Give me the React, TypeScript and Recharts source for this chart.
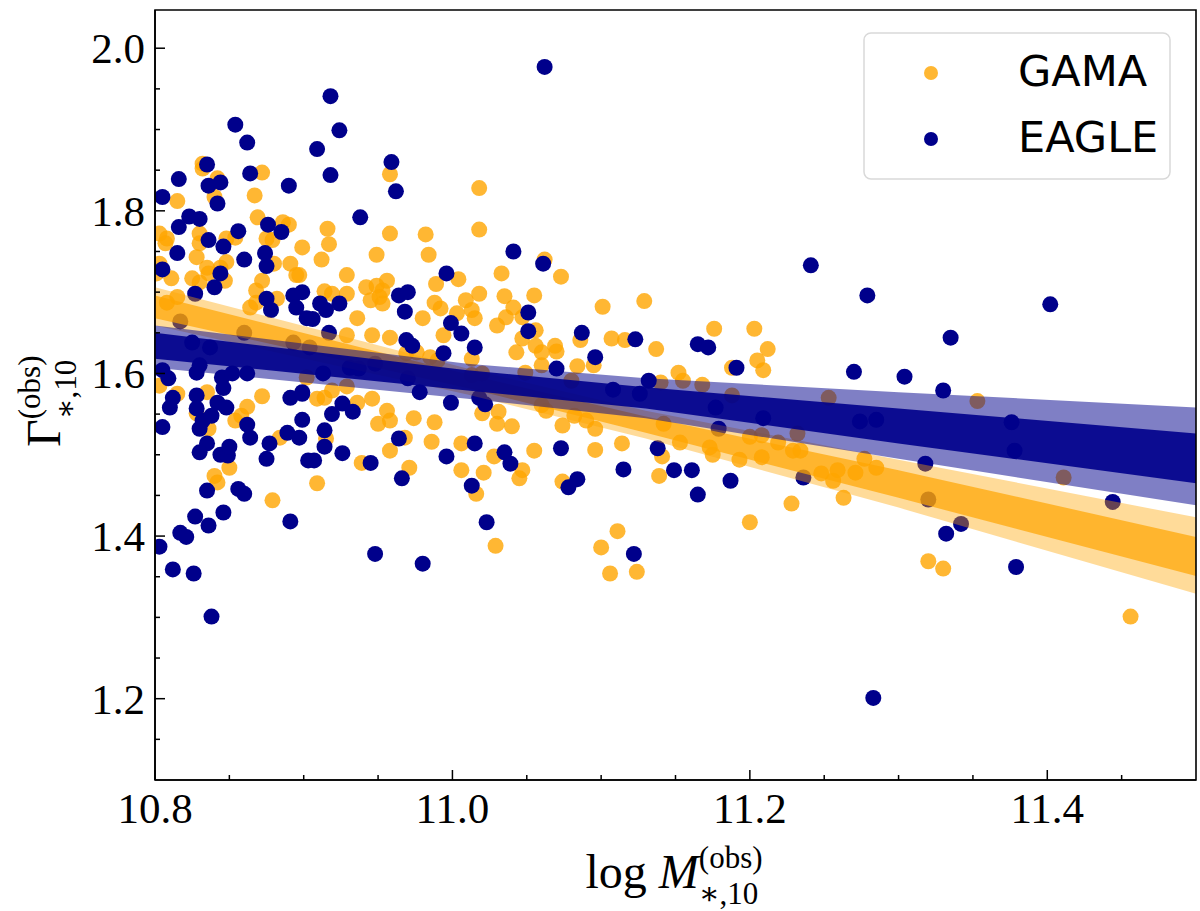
import {
  ComposedChart,
  Scatter,
  Area,
  XAxis,
  YAxis,
  ReferenceArea,
  Legend,
} from 'recharts';

// axis ticks (minor every 0.05, labels every 0.2)
const X_TICKS = [10.8, 10.85, 10.9, 10.95, 11.0, 11.05, 11.1, 11.15, 11.2, 11.25, 11.3, 11.35, 11.4, 11.45];
const X_LABELS = [10.8, 11.0, 11.2, 11.4];
const Y_TICKS = [1.15, 1.2, 1.25, 1.3, 1.35, 1.4, 1.45, 1.5, 1.55, 1.6, 1.65, 1.7, 1.75, 1.8, 1.85, 1.9, 1.95, 2.0];
const Y_LABELS = [1.2, 1.4, 1.6, 1.8, 2.0];

const SERIES_NAMES = ['GAMA', 'EAGLE'];

// GAMA galaxies: [log M*, Gamma]
const GAMA_POINTS: [number, number][] = [
  [10.832, 1.858], [10.832, 1.852], [10.872, 1.847], [10.842, 1.84], [10.815, 1.812], [10.867, 1.819],
  [10.84, 1.817], [10.869, 1.792], [10.886, 1.786], [10.89, 1.783], [10.875, 1.766], [10.879, 1.764],
  [10.899, 1.755], [10.803, 1.772], [10.808, 1.766], [10.807, 1.76], [10.83, 1.772], [10.83, 1.76],
  [10.848, 1.766], [10.854, 1.767], [10.828, 1.743], [10.848, 1.737], [10.844, 1.73], [10.835, 1.73],
  [10.836, 1.723], [10.88, 1.735], [10.891, 1.735], [10.895, 1.721], [10.825, 1.717], [10.83, 1.712],
  [10.811, 1.717], [10.847, 1.714], [10.872, 1.714], [10.868, 1.702], [10.882, 1.692], [10.803, 1.735],
  [10.801, 1.723], [10.815, 1.694], [10.808, 1.687], [10.868, 1.687], [10.864, 1.681],
  [10.803, 1.585], [10.815, 1.575], [10.835, 1.577], [10.872, 1.572], [10.862, 1.559], [10.854, 1.542],
  [10.858, 1.548], [10.828, 1.551], [10.836, 1.532], [10.884, 1.521], [10.85, 1.484], [10.84, 1.474],
  [10.842, 1.466], [10.879, 1.444],
  [10.958, 1.845], [11.018, 1.828], [10.916, 1.778], [10.958, 1.772], [10.982, 1.771], [10.917, 1.759],
  [10.912, 1.74], [10.949, 1.746], [10.984, 1.746], [10.929, 1.721], [10.897, 1.721], [11.004, 1.716],
  [10.989, 1.71], [10.942, 1.706], [10.949, 1.708], [10.953, 1.702], [10.956, 1.714], [10.945, 1.69],
  [10.953, 1.686], [10.951, 1.694], [10.929, 1.698], [10.914, 1.701], [10.919, 1.698], [10.988, 1.687],
  [10.992, 1.68], [11.009, 1.69], [11.013, 1.678], [11.003, 1.674], [10.98, 1.668], [10.936, 1.668],
  [10.929, 1.647], [10.946, 1.647], [10.958, 1.644], [10.994, 1.647], [11.018, 1.777],
  [10.976, 1.626], [10.985, 1.62], [10.99, 1.616], [11.013, 1.618], [10.902, 1.595], [10.929, 1.584],
  [10.919, 1.579], [10.909, 1.569], [10.914, 1.57], [10.936, 1.564], [10.946, 1.569], [10.956, 1.554],
  [10.958, 1.542], [10.95, 1.538], [10.974, 1.545], [10.988, 1.54], [10.986, 1.516], [11.006, 1.514],
  [10.968, 1.521], [10.958, 1.505], [10.915, 1.52], [10.939, 1.49], [10.971, 1.484], [11.006, 1.481],
  [11.016, 1.452], [10.909, 1.465], [10.969, 1.625],
  [11.062, 1.74], [11.033, 1.723], [11.073, 1.719], [11.018, 1.698], [11.035, 1.695], [11.055, 1.696],
  [11.041, 1.681], [11.015, 1.668], [11.03, 1.659], [11.036, 1.669], [11.047, 1.669], [11.056, 1.653],
  [11.101, 1.682], [11.129, 1.689],
  [11.043, 1.626], [11.047, 1.643], [11.056, 1.634], [11.06, 1.626], [11.069, 1.634], [11.07, 1.627],
  [11.086, 1.641], [11.107, 1.643], [11.116, 1.641], [11.06, 1.61], [11.084, 1.609], [11.095, 1.61],
  [11.013, 1.598], [11.02, 1.6], [11.049, 1.601], [11.08, 1.591], [11.031, 1.553], [11.02, 1.551],
  [11.03, 1.538], [11.04, 1.535], [11.06, 1.561], [11.063, 1.554], [11.074, 1.536], [11.082, 1.548],
  [11.09, 1.542], [11.096, 1.532], [11.114, 1.514], [11.055, 1.505], [11.096, 1.506], [11.028, 1.498],
  [11.021, 1.478], [11.047, 1.481], [11.045, 1.471], [11.074, 1.467], [11.029, 1.388], [11.111, 1.406],
  [11.1, 1.386], [11.106, 1.354], [11.124, 1.356],
  [11.176, 1.655], [11.203, 1.655], [11.137, 1.63], [11.212, 1.63], [11.205, 1.616], [11.209, 1.604],
  [11.188, 1.607], [11.152, 1.601], [11.155, 1.591], [11.168, 1.586], [11.14, 1.589], [11.188, 1.573],
  [11.253, 1.57], [11.142, 1.538], [11.153, 1.515], [11.173, 1.509], [11.175, 1.5], [11.193, 1.494],
  [11.208, 1.497], [11.2, 1.522], [11.208, 1.524], [11.219, 1.515], [11.232, 1.526], [11.229, 1.505],
  [11.234, 1.505], [11.141, 1.498], [11.139, 1.474], [11.248, 1.477], [11.256, 1.468], [11.259, 1.481],
  [11.271, 1.478], [11.277, 1.495], [11.285, 1.484], [11.263, 1.447], [11.228, 1.44], [11.2, 1.417],
  [11.353, 1.566], [11.411, 1.472], [11.32, 1.369], [11.33, 1.36], [11.456, 1.301],
];

// EAGLE galaxies: [log M*, Gamma]
const EAGLE_POINTS: [number, number][] = [
  [10.854, 1.906], [10.862, 1.884], [10.835, 1.857], [10.816, 1.839], [10.864, 1.846], [10.836, 1.831],
  [10.844, 1.835], [10.89, 1.831], [10.805, 1.817], [10.842, 1.809], [10.823, 1.793], [10.83, 1.79],
  [10.816, 1.78], [10.876, 1.783], [10.885, 1.774], [10.856, 1.775], [10.836, 1.764], [10.846, 1.756],
  [10.815, 1.748], [10.86, 1.74], [10.874, 1.748], [10.875, 1.732], [10.805, 1.728], [10.844, 1.723],
  [10.84, 1.706], [10.827, 1.698], [10.875, 1.692], [10.893, 1.696], [10.899, 1.7], [10.878, 1.678],
  [10.895, 1.681],
  [10.817, 1.664], [10.86, 1.65], [10.825, 1.638], [10.837, 1.632], [10.893, 1.638], [10.805, 1.604],
  [10.809, 1.594], [10.83, 1.61], [10.828, 1.601], [10.845, 1.595], [10.852, 1.6], [10.862, 1.6],
  [10.846, 1.582], [10.812, 1.57], [10.81, 1.558], [10.828, 1.573], [10.828, 1.557], [10.842, 1.564],
  [10.848, 1.558], [10.838, 1.548], [10.832, 1.542], [10.83, 1.532], [10.805, 1.534], [10.862, 1.537],
  [10.864, 1.521], [10.891, 1.57], [10.899, 1.575], [10.899, 1.543], [10.889, 1.527], [10.897, 1.521],
  [10.877, 1.514], [10.875, 1.495], [10.903, 1.493], [10.835, 1.514], [10.83, 1.503], [10.844, 1.5],
  [10.849, 1.499], [10.85, 1.51], [10.835, 1.456], [10.856, 1.458], [10.86, 1.452], [10.827, 1.424],
  [10.836, 1.413], [10.846, 1.429], [10.817, 1.404], [10.821, 1.399], [10.803, 1.387], [10.812, 1.359],
  [10.826, 1.354], [10.891, 1.418], [10.838, 1.301],
  [10.918, 1.941], [10.924, 1.899], [10.909, 1.876], [10.918, 1.844], [10.959, 1.86], [10.962, 1.824],
  [10.938, 1.792], [10.996, 1.723], [10.911, 1.686], [10.915, 1.678], [10.924, 1.686], [10.964, 1.696],
  [10.97, 1.7], [10.968, 1.676], [10.999, 1.662], [11.006, 1.649], [10.902, 1.668], [10.906, 1.667],
  [10.917, 1.65],
  [10.969, 1.641], [10.973, 1.634], [10.994, 1.625], [11.015, 1.632], [10.904, 1.632], [10.913, 1.6],
  [10.931, 1.607], [10.937, 1.606], [10.948, 1.612], [10.97, 1.594], [10.978, 1.577], [10.999, 1.564],
  [10.899, 1.577], [10.926, 1.563], [10.933, 1.553], [10.919, 1.55], [10.914, 1.53], [10.914, 1.51],
  [10.926, 1.502], [10.907, 1.493], [10.945, 1.49], [10.964, 1.52], [10.996, 1.498], [10.966, 1.471],
  [11.015, 1.514], [10.948, 1.378], [10.98, 1.366],
  [11.062, 1.977], [11.041, 1.75], [11.061, 1.735], [11.051, 1.675], [11.051, 1.652], [11.087, 1.65],
  [11.123, 1.642],
  [11.096, 1.62], [11.07, 1.606], [11.108, 1.58], [11.126, 1.575], [11.132, 1.591], [11.018, 1.57],
  [11.022, 1.562], [11.035, 1.503], [11.039, 1.489], [11.073, 1.508], [11.115, 1.482], [11.084, 1.47],
  [11.078, 1.46], [11.013, 1.462], [11.023, 1.417], [11.122, 1.378],
  [11.241, 1.733], [11.279, 1.696], [11.165, 1.636], [11.172, 1.632], [11.191, 1.607], [11.27, 1.602],
  [11.304, 1.596], [11.177, 1.558], [11.209, 1.545], [11.274, 1.541], [11.285, 1.543], [11.179, 1.532],
  [11.138, 1.508], [11.149, 1.481], [11.161, 1.481], [11.187, 1.468], [11.236, 1.472], [11.165, 1.451],
  [11.402, 1.685], [11.335, 1.644], [11.33, 1.579], [11.376, 1.54], [11.378, 1.505], [11.318, 1.489],
  [11.444, 1.442], [11.332, 1.403], [11.379, 1.362], [11.32, 1.445], [11.342, 1.415], [11.283, 1.201],
];

// fit confidence bands, read at these masses
const FIT_X = [10.8, 11.01, 11.13, 11.3, 11.5];
const GAMA_OUTER_LO = [1.659, 1.574, 1.52, 1.435, 1.329];
const GAMA_OUTER_HI = [1.706, 1.606, 1.554, 1.494, 1.423];
const GAMA_INNER_LO = [1.668, 1.582, 1.527, 1.447, 1.351];
const GAMA_INNER_HI = [1.696, 1.599, 1.547, 1.481, 1.399];
const EAGLE_OUTER_LO = [1.607, 1.569, 1.545, 1.495, 1.438];
const EAGLE_OUTER_HI = [1.659, 1.612, 1.594, 1.577, 1.558];
const EAGLE_INNER_LO = [1.618, 1.579, 1.557, 1.514, 1.465];
const EAGLE_INNER_HI = [1.65, 1.604, 1.583, 1.557, 1.526];

const GAMA_COLOR = '#ffa500';
const EAGLE_COLOR = '#00008b';
const SERIF = '"Liberation Serif", "DejaVu Serif", serif';

const toPoints = (pts: [number, number][]) => pts.map(([x, y]) => ({ x, y }));
const toBand = (lo: number[], hi: number[]) => FIT_X.map((x, i) => ({ x, band: [lo[i], hi[i]] }));
const inList = (v: number, list: number[]) => list.some((t) => Math.abs(t - v) < 1e-6);

function XTick({ x, y, payload }: any) {
  const major = inList(payload.value, X_LABELS);
  return (
    <g>
      <line x1={x} x2={x} y1={y} y2={y - (major ? 10 : 5)} stroke="#000" strokeWidth={1.5} />
      {major && (
        <text x={x} y={y + 43} textAnchor="middle" fontFamily={SERIF} fontSize={43} fill="#000">
          {payload.value.toFixed(1)}
        </text>
      )}
    </g>
  );
}

function YTick({ x, y, payload }: any) {
  const major = inList(payload.value, Y_LABELS);
  return (
    <g>
      <line x1={x} x2={x + (major ? 10 : 5)} y1={y} y2={y} stroke="#000" strokeWidth={1.5} />
      {major && (
        <text x={x - 10} y={y + 15} textAnchor="end" fontFamily={SERIF} fontSize={43} fill="#000">
          {payload.value.toFixed(1)}
        </text>
      )}
    </g>
  );
}

function XTitle({ viewBox }: any) {
  const cx = viewBox ? viewBox.x + viewBox.width / 2 : 675;
  return (
    <text x={cx - 90} y={888} fontFamily={SERIF} fontSize={48} fill="#000">
      log
      <tspan dx={12} fontStyle="italic">M</tspan>
      <tspan fontSize={31} dy={-20}>(obs)</tspan>
      <tspan fontSize={31} dx={-64} dy={36}>∗,10</tspan>
    </text>
  );
}

function YTitle({ viewBox }: any) {
  const cy = viewBox ? viewBox.y + viewBox.height / 2 : 395;
  const bx = 60;
  const by = cy + 52;
  return (
    <text transform={`rotate(-90 ${bx} ${by})`} x={bx} y={by} fontFamily={SERIF} fontSize={48} fill="#000">
      Γ
      <tspan fontSize={31} dy={-20}>(obs)</tspan>
      <tspan fontSize={31} dx={-64} dy={36}>∗,10</tspan>
    </text>
  );
}

function LegendBox({ payload }: any) {
  const entries = payload || [];
  const items = SERIES_NAMES.map((name) => entries.find((e: any) => e.value === name)).filter(Boolean);
  return (
    <svg width={310} height={150} style={{ display: 'block', overflow: 'visible' }}>
      <rect x={1} y={1} width={306} height={146} rx={7} fill="#fff" fillOpacity={0.8} stroke="#d9d9d9" strokeWidth={1.5} />
      {items.map((entry: any, i: number) => (
        <g key={entry.value}>
          <circle
            cx={68}
            cy={41 + i * 66}
            r={7}
            fill={entry.value === 'GAMA' ? GAMA_COLOR : EAGLE_COLOR}
            fillOpacity={entry.value === 'GAMA' ? 0.8 : 1}
          />
          <text x={155} y={54 + i * 66} fontFamily='"DejaVu Sans", sans-serif' fontSize={43} fill="#000">
            {entry.value}
          </text>
        </g>
      ))}
    </svg>
  );
}

const dot = (color: string, opacity: number) => (props: any) =>
  <circle cx={props.cx} cy={props.cy} r={8} fill={color} fillOpacity={opacity} />;

export default function App() {
  return (
    <div style={{ position: 'absolute', left: 0, top: 0, width: 1200, height: 911, background: '#fff' }}>
      <ComposedChart width={1200} height={911} margin={{ top: 10, right: 4, bottom: 71, left: 55 }}>
        <XAxis
          type="number"
          dataKey="x"
          domain={[10.8, 11.5]}
          allowDataOverflow
          ticks={X_TICKS}
          interval={0}
          tickSize={0}
          tickMargin={0}
          tickLine={false}
          axisLine={{ stroke: '#000', strokeWidth: 1.6 }}
          tick={<XTick />}
          height={60}
          label={<XTitle />}
        />
        <YAxis
          type="number"
          domain={[1.1, 2.047]}
          allowDataOverflow
          ticks={Y_TICKS}
          interval={0}
          tickSize={0}
          tickMargin={0}
          tickLine={false}
          axisLine={{ stroke: '#000', strokeWidth: 1.6 }}
          tick={<YTick />}
          width={100}
          label={<YTitle />}
        />
        <Scatter
          name="GAMA"
          data={toPoints(GAMA_POINTS)}
          dataKey="y"
          fill={GAMA_COLOR}
          shape={dot(GAMA_COLOR, 0.8)}
          isAnimationActive={false}
          zIndex={40}
        />
        <Scatter
          name="EAGLE"
          data={toPoints(EAGLE_POINTS)}
          dataKey="y"
          fill={EAGLE_COLOR}
          shape={dot(EAGLE_COLOR, 1)}
          isAnimationActive={false}
          zIndex={41}
        />
        <Area
          data={toBand(GAMA_OUTER_LO, GAMA_OUTER_HI)}
          dataKey="band"
          type="linear"
          stroke="none"
          fill={GAMA_COLOR}
          fillOpacity={0.4}
          legendType="none"
          dot={false}
          activeDot={false}
          isAnimationActive={false}
          zIndex={650}
        />
        <Area
          data={toBand(GAMA_INNER_LO, GAMA_INNER_HI)}
          dataKey="band"
          type="linear"
          stroke="none"
          fill={GAMA_COLOR}
          fillOpacity={0.7}
          legendType="none"
          dot={false}
          activeDot={false}
          isAnimationActive={false}
          zIndex={651}
        />
        <Area
          data={toBand(EAGLE_OUTER_LO, EAGLE_OUTER_HI)}
          dataKey="band"
          type="linear"
          stroke="none"
          fill={EAGLE_COLOR}
          fillOpacity={0.5}
          legendType="none"
          dot={false}
          activeDot={false}
          isAnimationActive={false}
          zIndex={652}
        />
        <Area
          data={toBand(EAGLE_INNER_LO, EAGLE_INNER_HI)}
          dataKey="band"
          type="linear"
          stroke="none"
          fill={EAGLE_COLOR}
          fillOpacity={0.9}
          legendType="none"
          dot={false}
          activeDot={false}
          isAnimationActive={false}
          zIndex={653}
        />
        <ReferenceArea
          x1={10.8}
          x2={11.5}
          y1={1.1}
          y2={2.047}
          fill="none"
          fillOpacity={0}
          stroke="#000"
          strokeWidth={1.6}
          zIndex={700}
        />
        <Legend
          layout="vertical"
          align="center"
          verticalAlign="middle"
          wrapperStyle={{ left: 863, top: 32, width: 310, height: 150 }}
          content={<LegendBox />}
        />
      </ComposedChart>
    </div>
  );
}
